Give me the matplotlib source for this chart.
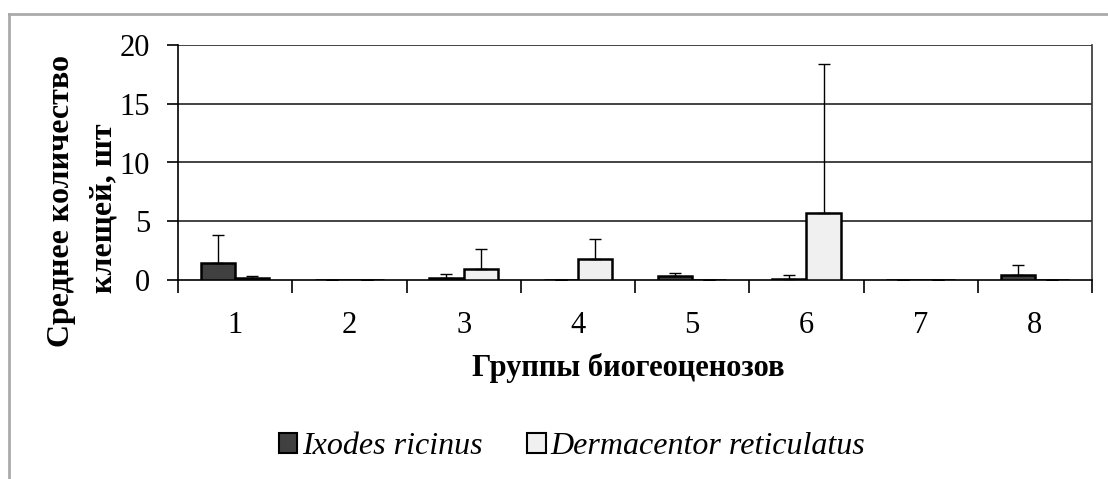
import matplotlib
matplotlib.use("Agg")
import matplotlib.pyplot as plt
from matplotlib.lines import Line2D
from matplotlib.patches import Patch
import numpy as np

groups = ["1", "2", "3", "4", "5", "6", "7", "8"]
ixodes = [1.45, 0, 0.2, 0, 0.3, 0.1, 0, 0.45]
ixodes_err = [2.35, 0, 0.3, 0, 0.3, 0.35, 0, 0.85]
derm = [0.15, 0, 0.95, 1.8, 0, 5.7, 0, 0]
derm_err = [0.15, 0, 1.65, 1.7, 0, 12.7, 0, 0]
series_names = ["Ixodes ricinus", "Dermacentor reticulatus"]
yticks = [0, 5, 10, 15, 20]

plt.rcParams['font.family'] = ['Liberation Serif', 'DejaVu Serif']

fig = plt.figure(figsize=(11.08, 4.79), dpi=100)
ax = fig.add_axes([178/1108, 199/479, 914/1108, 235/479])

x = np.arange(1, len(groups) + 1)
w = 0.3
err_kw = dict(ecolor='black', elinewidth=1.0, capsize=4, capthick=1.0)
ax.bar(x - w/2, ixodes, w, color='#404040', edgecolor='black', linewidth=1.8,
       yerr=[np.zeros(len(ixodes)), ixodes_err], error_kw=err_kw, zorder=3)
ax.bar(x + w/2, derm, w, color='#f0f0f0', edgecolor='black', linewidth=1.8,
       yerr=[np.zeros(len(derm)), derm_err], error_kw=err_kw, zorder=3)

ax.set_xlim(0.5, len(groups) + 0.5)
ax.set_ylim(0, 20)
ax.set_yticks(yticks)
ax.set_xticks(x)
ax.set_xticklabels(groups)
ax.set_xticks(np.arange(0.5, len(groups) + 1, 1), minor=True)
ax.tick_params(axis='x', which='major', length=0, pad=22, labelsize=22)
ax.tick_params(axis='x', which='minor', length=9, width=1.2, direction='out')
ax.tick_params(axis='y', length=8, width=1.2, direction='out', labelsize=22, pad=12)

for v in yticks[1:]:
    ax.axhline(v, color='#222222', linewidth=1.2, zorder=1)

ax.spines['top'].set_visible(False)
ax.spines['right'].set_color('#333333')
ax.spines['right'].set_linewidth(1.2)
ax.spines['left'].set_linewidth(1.2)
ax.spines['bottom'].set_linewidth(1.2)

fig.text(628/1108, 1 - 368/479, "Группы биогеоценозов", fontsize=22, fontweight='bold',
         ha='center', va='center')

fig.text(69/1108, 1 - 201/479, "Среднее количество", rotation=90, fontsize=23,
         fontweight='bold', ha='center', va='baseline', rotation_mode='anchor')
fig.text(112/1108, 1 - 208/479, "клещей, шт", rotation=90, fontsize=23,
         fontweight='bold', ha='center', va='baseline', rotation_mode='anchor')

handles = [Patch(facecolor='#404040', edgecolor='black', linewidth=1.5),
           Patch(facecolor='#f0f0f0', edgecolor='black', linewidth=1.5)]
leg = fig.legend(handles, series_names, loc='center', bbox_to_anchor=(572/1108, 1 - 447/479),
                 ncol=2, frameon=False, prop={'style': 'italic', 'size': 23},
                 handlelength=0.58, handleheight=0.58, handletextpad=0.15, columnspacing=1.4)

fig.add_artist(Line2D([9/1108, 1.0], [1 - 14/479, 1 - 14/479], transform=fig.transFigure,
                      color='#aaaaaa', linewidth=2))
fig.add_artist(Line2D([9/1108, 9/1108], [0, 1 - 14/479], transform=fig.transFigure,
                      color='#aaaaaa', linewidth=2))

fig.savefig("out.png", dpi=100)
